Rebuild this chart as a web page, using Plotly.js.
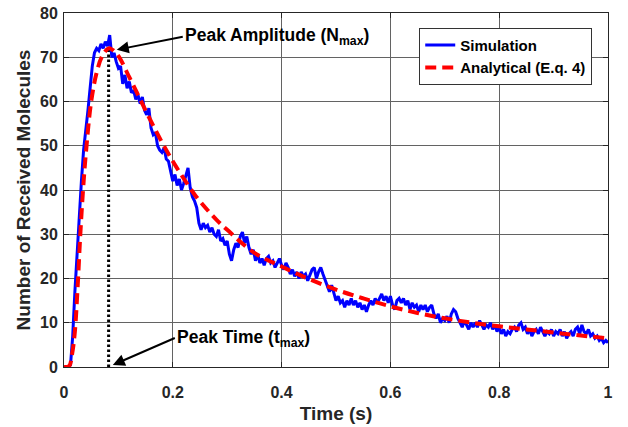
<!DOCTYPE html>
<html>
<head>
<meta charset="utf-8">
<script src="https://cdn.plot.ly/plotly-3.0.1.min.js"></script>
<style>html,body{margin:0;padding:0;background:#fff;}#chart{width:628px;height:427px;}</style>
</head>
<body>
<div id="chart"></div>
<script>
// ---- data ----
const simStart = 0;
const simStep = 0.004;
const simulation = [
0,0,0,0.5,7,17,26,35,42,49,
53,58,63,68,71,72,71.5,73,72,73.5,
72.5,75,70,71,69,67.5,68,64,66,63,
64.5,62,62.5,60.5,61.5,59.5,61,58,57,58.5,
54,52.5,53,50,49,48.5,49.5,47,46.5,44,
42,43.5,41,42.5,40,41.5,43.5,45,40.5,38.5,
37.5,36,32.5,31,32.5,31.5,32,30.5,31.5,30,
29.5,31,28.5,29,27.5,28.5,25.5,24,26.5,28,
27,29.5,30.5,28,29.5,27,25.5,26.5,24,25.5,
23.5,24.5,23,24.5,25,23.5,24,22.5,23.5,24.5,
23,22,23.5,22.5,21,22,20.5,21.5,20,21.5,
20.5,21,19.5,21,22,22.5,20,21.5,22.5,21,
19.5,18,17,18.5,16.5,15,16,14.5,15,13.5,
15,14,15.5,14,15,13.5,14.5,13,14,12.5,
14,15,14,15.5,14.5,15.5,16.5,15,16,14.5,
16,14,13,15,15.5,14.5,15.5,14,15,13,
14.5,13.5,14,12.5,14,13,14,12.5,13.5,14,
12,11,12,10,11,10.5,11.5,10,12,13,
12.5,11,10,9,10.5,9.5,8.5,10,9,10,
9,10.5,9.5,8.5,9.5,9,10,8.5,9.5,8,
9,7.5,8.5,7,8,7.5,8.5,9,8,9.5,
10,8.5,9,7.5,8.5,7,8,8.5,7.5,9,
8,7,8,7.5,8.5,7,8,7.5,8.5,7,
8,6.5,7.5,8,7,8.5,9,7.5,9.5,8,
7.5,8.5,7,7.5,6.5,7,6,6.5,5.5,6,
5.5
];
const analyticalTime = [0,0.005,0.01,0.015,0.02,0.025,0.03,0.035,0.04,0.05,0.06,0.07,0.082,0.09,0.1,0.12,0.14,0.16,0.18,0.2,0.22,0.24,0.26,0.28,0.3,0.35,0.4,0.45,0.5,0.55,0.6,0.65,0.7,0.75,0.8,0.85,0.9,0.95,1.0];
const analytical = [0,0,0.3,3,8,18,30,40,48,60,66.5,70.2,72,71.6,70.3,65.5,60.5,55.5,50.8,46.5,42.6,39,36,33.3,31,25.8,22.7,19.9,17.5,15.5,13.7,12.2,11,10,9.2,8.5,7.8,7.1,6.5];
const peakTime = 0.082;
const peakAmp = 72;
const xTicks = [0,0.2,0.4,0.6,0.8,1];
const xTickLabels = ['0','0.2','0.4','0.6','0.8','1'];
const yTicks = [0,10,20,30,40,50,60,70,80];
const yTickLabels = ['0','10','20','30','40','50','60','70','80'];
const seriesNames = ['Simulation','Analytical (E.q. 4)'];
const labelAmp = 'Peak Amplitude (N<sub>max</sub>)';
const labelTime = 'Peak Time (t<sub>max</sub>)';

// ---- chart ----
const FONT = 'Liberation Sans, Arial, Helvetica, sans-serif';
const AX = '#262626';
const traces = [
  {x:[peakTime,peakTime], y:[0,peakAmp], mode:'lines', showlegend:false, hoverinfo:'skip',
   line:{color:'#000', width:3, dash:'2.5px,2.5px'}},
  {x0:simStart, dx:simStep, y:simulation, mode:'lines', name:seriesNames[0],
   line:{color:'#0000ff', width:3}},
  {x:analyticalTime, y:analytical, mode:'lines', name:seriesNames[1], line:{color:'#ff0000', width:4, dash:'11px,6px', shape:'spline'}}
];
const axisCommon = {
  showline:true, linecolor:AX, linewidth:1, mirror:'ticks', ticks:'inside', ticklen:5, tickcolor:AX,
  showgrid:true, gridcolor:'#636363', gridwidth:1, zeroline:false,
  tickfont:{family:FONT, size:16, color:AX, weight:'bold'}, fixedrange:true
};
const annFont = {family:FONT, size:17.5, color:'#000', weight:'bold'};
const layout = {
  width:628, height:427,
  margin:{l:64, r:20, t:13, b:60},
  paper_bgcolor:'#fff', plot_bgcolor:'#fff',
  font:{family:FONT, color:AX},
  xaxis:Object.assign({}, axisCommon, {range:[0,1], tickvals:xTicks, ticktext:xTickLabels, ticklabelstandoff:11,
    title:{text:'Time (s)', font:{family:FONT, size:19, color:AX, weight:'bold'}, standoff:6}}),
  yaxis:Object.assign({}, axisCommon, {range:[0,80], tickvals:yTicks, ticktext:yTickLabels, ticklabelstandoff:2,
    title:{text:'Number of Received Molecules', font:{family:FONT, size:19, color:AX, weight:'bold'}, standoff:4}}),
  legend:{x:0.653, y:0.958, xanchor:'left', yanchor:'top', bgcolor:'#fff', bordercolor:'#333', borderwidth:1,
    font:{family:FONT, size:15, color:'#000', weight:'bold'}, tracegroupgap:0, itemwidth:30},
  showlegend:true,
  annotations:[
    {x:0.097, y:71.7, xref:'x', yref:'y', text:labelAmp, showarrow:true, ax:66, ay:-13,
     xanchor:'left', yanchor:'middle', arrowhead:2, arrowsize:1.2, arrowwidth:2, arrowcolor:'#000', font:annFont},
    {x:0.0897, y:0.45, xref:'x', yref:'y', text:labelTime, showarrow:true, ax:62, ay:-27,
     xanchor:'left', yanchor:'middle', arrowhead:2, arrowsize:1.2, arrowwidth:2, arrowcolor:'#000', font:annFont}
  ]
};
Plotly.newPlot('chart', traces, layout, {displayModeBar:false, staticPlot:true});
</script>
</body>
</html>
